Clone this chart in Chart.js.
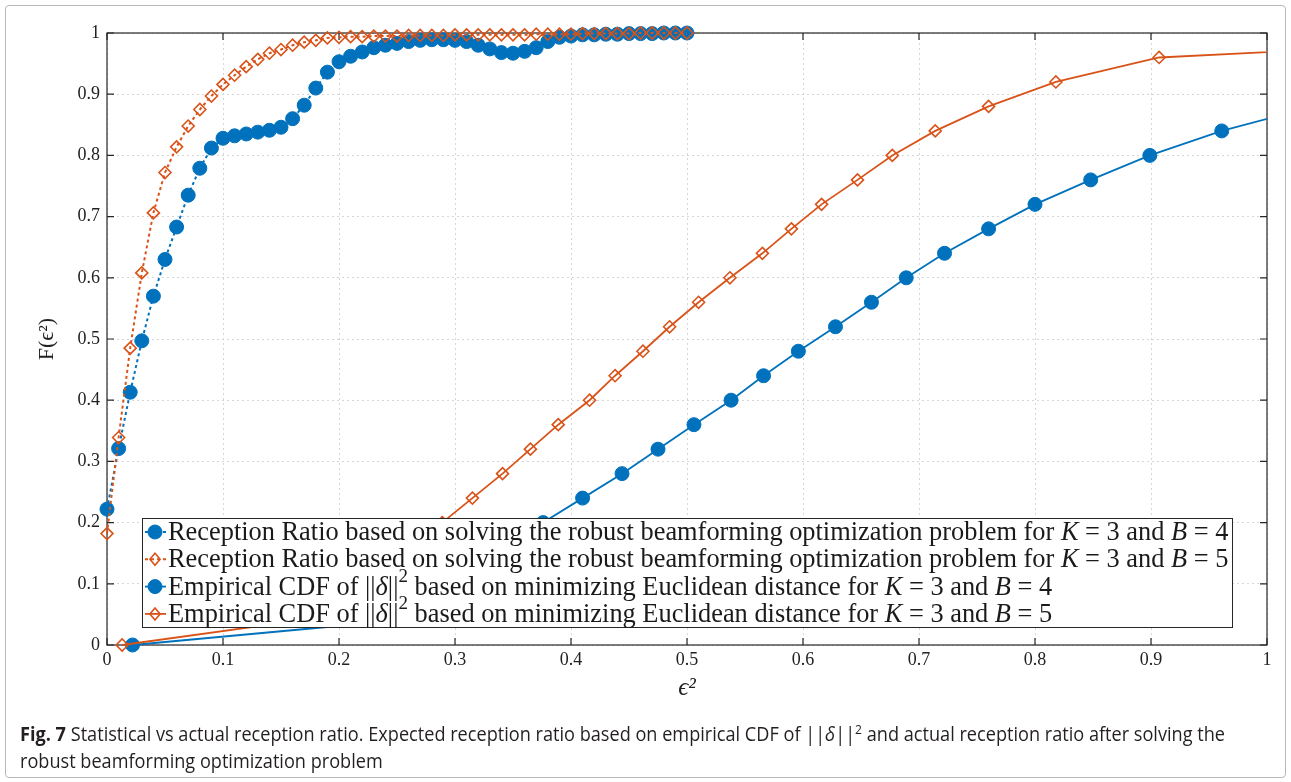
<!DOCTYPE html>
<html>
<head>
<meta charset="utf-8">
<script src="https://cdn.jsdelivr.net/npm/chart.js@4.4.1/dist/chart.umd.min.js"></script>
<style>
    html, body { margin: 0; padding: 0; background: #fff; }
    #frame { position: absolute; left: 5px; top: 5px; width: 1279px; height: 771px; border: 1px solid #b8b8b8; border-radius: 4px; }
    #wrap { position: absolute; left: 0; top: 0; width: 1291px; height: 782px; }
    #caption { position: absolute; left: 20px; top: 720px; font-family: "Liberation Sans Narrow", "Open Sans", sans-serif; font-size: 19.5px; line-height: 27px; color: #231f20; white-space: nowrap; transform-origin: left top; }
    #caption sup { font-size: 13px; line-height: 0; vertical-align: 7px; }
</style>
</head>
<body>
<div id="frame"></div>
<div id="wrap"><canvas id="cdfChart"></canvas></div>
<div id="caption"><span id="cap1"><b>Fig. 7</b> Statistical vs actual reception ratio. Expected reception ratio based on empirical CDF of ||<i>δ</i>||<sup>2</sup> and actual reception ratio after solving the</span><br><span>robust beamforming optimization problem</span></div>

<script>
// epsilon^2 grid used for the reception ratio curves
const ratioX = [0, 0.01, 0.02, 0.03, 0.04, 0.05, 0.06, 0.07, 0.08, 0.09,
    0.10, 0.11, 0.12, 0.13, 0.14, 0.15, 0.16, 0.17, 0.18, 0.19,
    0.20, 0.21, 0.22, 0.23, 0.24, 0.25, 0.26, 0.27, 0.28, 0.29,
    0.30, 0.31, 0.32, 0.33, 0.34, 0.35, 0.36, 0.37, 0.38, 0.39,
    0.40, 0.41, 0.42, 0.43, 0.44, 0.45, 0.46, 0.47, 0.48, 0.49, 0.50];

// reception ratio, K = 3, B = 4
const ratioB4 = [0.222, 0.321, 0.413, 0.497, 0.570, 0.630, 0.683, 0.735, 0.779, 0.812,
    0.828, 0.832, 0.835, 0.838, 0.841, 0.846, 0.860, 0.882, 0.910, 0.936,
    0.953, 0.962, 0.969, 0.976, 0.980, 0.983, 0.986, 0.988, 0.989, 0.989,
    0.988, 0.986, 0.980, 0.974, 0.968, 0.967, 0.970, 0.976, 0.986, 0.993,
    0.995, 0.997, 0.997, 0.998, 0.998, 0.999, 0.999, 0.999, 1.000, 1.000, 1.000];

// reception ratio, K = 3, B = 5
const ratioB5 = [0.182, 0.339, 0.485, 0.608, 0.706, 0.772, 0.814, 0.848, 0.875, 0.897,
    0.916, 0.931, 0.945, 0.957, 0.967, 0.973, 0.980, 0.985, 0.988, 0.992,
    0.993, 0.994, 0.994, 0.995, 0.995, 0.995, 0.996, 0.996, 0.996, 0.996,
    0.997, 0.997, 0.997, 0.997, 0.997, 0.997, 0.997, 0.998, 0.998, 0.998,
    0.998, 0.999, 0.999, 0.999, 0.999, 0.999, 1.000, 1.000, 1.000, 1.000, 1.000];

// empirical CDF of ||delta||^2, K = 3, B = 4
const cdfB4X = [0.022, 0.250, 0.285, 0.316, 0.346, 0.376, 0.410, 0.444, 0.475, 0.506,
    0.538, 0.566, 0.596, 0.628, 0.659, 0.689, 0.722, 0.760, 0.800, 0.848,
    0.899, 0.961, 1.040];
const cdfB4Y = [0, 0.04, 0.08, 0.12, 0.16, 0.20, 0.24, 0.28, 0.32, 0.36,
    0.40, 0.44, 0.48, 0.52, 0.56, 0.60, 0.64, 0.68, 0.72, 0.76,
    0.80, 0.84, 0.88];

// empirical CDF of ||delta||^2, K = 3, B = 5
const cdfB5X = [0.013, 0.165, 0.200, 0.232, 0.262, 0.289, 0.315, 0.341, 0.365, 0.389,
    0.416, 0.438, 0.462, 0.485, 0.510, 0.537, 0.565, 0.590, 0.616, 0.647,
    0.677, 0.714, 0.760, 0.818, 0.907, 1.120];
const cdfB5Y = [0, 0.04, 0.08, 0.12, 0.16, 0.20, 0.24, 0.28, 0.32, 0.36,
    0.40, 0.44, 0.48, 0.52, 0.56, 0.60, 0.64, 0.68, 0.72, 0.76,
    0.80, 0.84, 0.88, 0.92, 0.96, 0.98];

const xTicks = [0, 0.1, 0.2, 0.3, 0.4, 0.5, 0.6, 0.7, 0.8, 0.9, 1];
const yTicks = [0, 0.1, 0.2, 0.3, 0.4, 0.5, 0.6, 0.7, 0.8, 0.9, 1];

const labels = [
    'Reception Ratio based on solving the robust beamforming optimization problem for K = 3 and B = 4',
    'Reception Ratio based on solving the robust beamforming optimization problem for K = 3 and B = 5',
    'Empirical CDF of ||δ||² based on minimizing Euclidean distance for K = 3 and B = 4',
    'Empirical CDF of ||δ||² based on minimizing Euclidean distance for K = 3 and B = 5'
];

const blue = '#0072bd';
const orange = '#d95319';
const serif = '"Liberation Serif", "DejaVu Serif", serif';

function toPoints(xs, ys) {
    return xs.map((x, i) => ({ x: x, y: ys[i] }));
}

// marker drawing shared by the legend
function drawMarker(ctx, ds, x, y) {
    ctx.save();
    ctx.lineWidth = ds.pointBorderWidth;
    ctx.strokeStyle = ds.pointBorderColor;
    ctx.fillStyle = ds.pointBackgroundColor;
    ctx.beginPath();
    if (ds.pointStyle === 'circle') {
        ctx.arc(x, y, ds.pointRadius, 0, Math.PI * 2);
    } else {
        const r = ds.pointRadius;
        ctx.moveTo(x, y - r);
        ctx.lineTo(x + r * 0.85, y);
        ctx.lineTo(x, y + r);
        ctx.lineTo(x - r * 0.85, y);
        ctx.closePath();
    }
    ctx.fill();
    ctx.stroke();
    ctx.restore();
}

// text with italic K, B, delta and a raised 2
function richText(ctx, text, x, y, size, draw) {
    const parts = text.split(/(\bK\b|\bB\b|δ|²)/);
    parts.forEach(p => {
        if (!p) return;
        let t = p, dy = 0;
        ctx.font = size + 'px ' + serif;
        if (p === 'K' || p === 'B' || p === 'δ') ctx.font = 'italic ' + size + 'px ' + serif;
        if (p === '²') {
            t = '2';
            dy = -size * 0.42;
            ctx.font = Math.round(size * 0.72) + 'px ' + serif;
        }
        if (draw) ctx.fillText(t, x, y + dy);
        x += ctx.measureText(t).width;
    });
    return x;
}

// axes box with inward ticks, drawn under the marks
const axesBox = {
    id: 'axesBox',
    beforeDatasetsDraw(chart) {
        const ctx = chart.ctx;
        const a = chart.chartArea;
        const sx = chart.scales.x, sy = chart.scales.y;
        ctx.save();
        ctx.strokeStyle = '#262626';
        ctx.lineWidth = 1.2;
        ctx.strokeRect(a.left, a.top, a.right - a.left, a.bottom - a.top);
        ctx.beginPath();
        xTicks.forEach(v => {
            const px = sx.getPixelForValue(v);
            ctx.moveTo(px, a.bottom); ctx.lineTo(px, a.bottom - 7);
            ctx.moveTo(px, a.top); ctx.lineTo(px, a.top + 7);
        });
        yTicks.forEach(v => {
            const py = sy.getPixelForValue(v);
            ctx.moveTo(a.left, py); ctx.lineTo(a.left + 7, py);
            ctx.moveTo(a.right, py); ctx.lineTo(a.right - 7, py);
        });
        ctx.stroke();
        ctx.restore();
    }
};

// legend box inside the plot, over the lines
const legendBox = {
    id: 'legendBox',
    afterDatasetsDraw(chart) {
        const ctx = chart.ctx;
        const a = chart.chartArea;
        const left = a.left + 35, top = a.top + 485, w = 1090, h = 109;
        ctx.save();
        ctx.fillStyle = '#fff';
        ctx.fillRect(left, top, w, h);
        ctx.strokeStyle = '#262626';
        ctx.lineWidth = 1;
        ctx.strokeRect(left + 0.5, top + 0.5, w, h);

        const base = 20;
        const wide = richText(ctx, chart.data.datasets[0].label, 0, 0, base, false);
        const size = base * 1061 / wide;

        chart.data.datasets.forEach((ds, i) => {
            const y = top + 14 + 27.3 * i;
            ctx.save();
            ctx.strokeStyle = ds.borderColor;
            ctx.lineWidth = ds.borderWidth;
            ctx.setLineDash(ds.borderDash || []);
            ctx.beginPath();
            ctx.moveTo(left + 3, y);
            ctx.lineTo(left + 24, y);
            ctx.stroke();
            ctx.restore();
            drawMarker(ctx, ds, left + 13, y);
            ctx.fillStyle = '#1a1a1a';
            ctx.textBaseline = 'middle';
            richText(ctx, ds.label, left + 26, y + 1, size, true);
        });
        ctx.restore();
    }
};

const ctx = document.getElementById('cdfChart').getContext('2d');

new Chart(ctx, {
    type: 'line',
    data: {
        datasets: [{
            label: labels[0],
            data: toPoints(ratioX, ratioB4),
            borderColor: blue,
            borderWidth: 2,
            borderDash: [3, 3],
            pointStyle: 'circle',
            pointRadius: 7,
            pointBackgroundColor: blue,
            pointBorderColor: blue,
            pointBorderWidth: 1,
            order: 3
        }, {
            label: labels[1],
            data: toPoints(ratioX, ratioB5),
            borderColor: orange,
            borderWidth: 2,
            borderDash: [3, 3],
            pointStyle: 'rectRot',
            pointRadius: 6,
            pointBackgroundColor: 'rgba(255,255,255,0)',
            pointBorderColor: orange,
            pointBorderWidth: 1.6,
            order: 1
        }, {
            label: labels[2],
            data: toPoints(cdfB4X, cdfB4Y),
            borderColor: blue,
            borderWidth: 1.8,
            pointStyle: 'circle',
            pointRadius: 7,
            pointBackgroundColor: blue,
            pointBorderColor: blue,
            pointBorderWidth: 1,
            order: 4
        }, {
            label: labels[3],
            data: toPoints(cdfB5X, cdfB5Y),
            borderColor: orange,
            borderWidth: 1.8,
            pointStyle: 'rectRot',
            pointRadius: 6,
            pointBackgroundColor: 'rgba(255,255,255,0)',
            pointBorderColor: orange,
            pointBorderWidth: 1.6,
            order: 2
        }]
    },
    options: {
        responsive: true,
        maintainAspectRatio: false,
        animation: false,
        clip: { left: 12, top: 12, right: 0, bottom: 12 },
        layout: {
            padding: { left: 30, top: 33, right: 24, bottom: 75 }
        },
        scales: {
            x: {
                type: 'linear',
                min: 0,
                max: 1,
                afterBuildTicks: s => { s.ticks = xTicks.map(v => ({ value: v })); },
                afterFit: s => { s.height = 62; },
                grid: { color: '#d6d6d6', lineWidth: 1, drawTicks: false },
                border: { display: false, dash: [2, 3] },
                ticks: {
                    padding: 4,
                    color: '#222',
                    font: { family: serif, size: 18 },
                    maxRotation: 0,
                    callback: v => String(Number(v.toFixed(1)))
                },
                title: {
                    display: true,
                    text: 'ϵ²',
                    color: '#222',
                    font: { family: serif, size: 25, style: 'italic' }
                }
            },
            y: {
                type: 'linear',
                min: 0,
                max: 1,
                afterBuildTicks: s => { s.ticks = yTicks.map(v => ({ value: v })); },
                afterFit: s => { s.width = 77; },
                grid: { color: '#d6d6d6', lineWidth: 1, drawTicks: false },
                border: { display: false, dash: [2, 3] },
                ticks: {
                    padding: 7,
                    color: '#222',
                    font: { family: serif, size: 18 },
                    callback: v => String(Number(v.toFixed(1)))
                },
                title: {
                    display: true,
                    text: 'F(ϵ²)',
                    color: '#222',
                    font: { family: serif, size: 22 }
                }
            }
        },
        plugins: {
            legend: { display: false },
            tooltip: { enabled: false }
        }
    },
    plugins: [axesBox, legendBox]
});

// squeeze the caption so its first line spans the same width as the original
const cap = document.getElementById('caption');
const w1 = document.getElementById('cap1').getBoundingClientRect().width;
cap.style.transform = 'scaleX(' + (1205 / w1) + ')';
</script>
</body>
</html>
